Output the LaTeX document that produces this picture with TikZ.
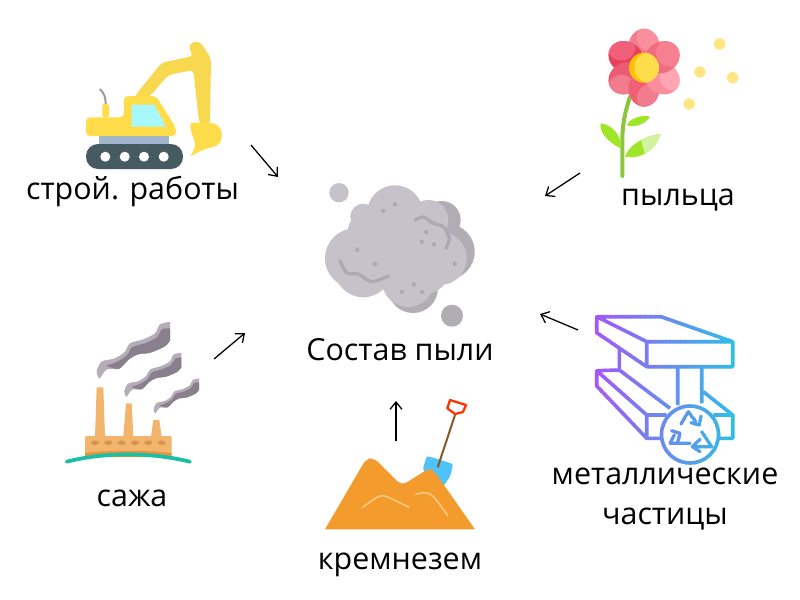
\documentclass[tikz,border=0pt]{standalone}
\usepackage{fontspec}
\setmainfont{Open Sans}
\usetikzlibrary{arrows.meta}

\definecolor{trackcol}{HTML}{465A61}
\definecolor{barcol}{HTML}{A0B4CC}
\definecolor{bodycol}{HTML}{FFDD4A}
\definecolor{armcol}{HTML}{F7D84E}
\definecolor{glasscol}{HTML}{A6F8FB}
\definecolor{leafcol}{HTML}{A0E628}
\definecolor{leaflight}{HTML}{D3F2A0}
\definecolor{stemcol}{HTML}{8CC63F}
\definecolor{pollencol}{HTML}{FFE680}
\definecolor{dustlight}{HTML}{C6C2C9}
\definecolor{dustdark}{HTML}{B0ADB5}
\definecolor{duststroke}{HTML}{ADA9B2}
\definecolor{gradA}{HTML}{A855F7}
\definecolor{gradB}{HTML}{2EC0E6}
\definecolor{sandcol}{HTML}{F39C2D}
\definecolor{sandline}{HTML}{FBC97F}
\definecolor{bladecol}{HTML}{4FC3F7}
\definecolor{plantcol}{HTML}{F2B56B}
\definecolor{plantdark}{HTML}{E39541}
\definecolor{smokelight}{HTML}{B5ADB8}
\definecolor{smokedark}{HTML}{8A7F8C}
\definecolor{groundcol}{HTML}{1ABFA5}
\definecolor{centercol}{HTML}{FFC107}

\tikzset{
  label/.style={font=\fontsize{22.8}{30}\selectfont, align=center, text=black, inner sep=0pt, anchor=base},
  flow/.style={-{Straight Barb[length=5.5pt,width=9pt]}, black, line width=.95pt},
  dustdot/.style={fill=duststroke, draw=none},
  pollen/.style={fill=pollencol, draw=none},
}

\newcommand{\beamlines}{
  (596.7,316.7) -- (661,316.7) -- (732.7,341.7) -- (646.7,341.7) -- cycle
  (646.7,341.7) -- (646.7,366.7) -- (732.7,366.7) -- (732.7,341.7)
  (596.7,316.7) -- (596.7,332.7) -- (646.7,366.7)
  (619.3,348.3) -- (619.3,370)
  (619.3,370) -- (596.7,370.7) -- (596.7,386) -- (646.7,438.3) -- (661.7,438.3)
  (596.7,370.7) -- (646.7,415) -- (646.7,438.3)
  (646.7,415) -- (666.7,415)
  (619.3,370) -- (670,408.3)
  (703.3,391.7) -- (732.7,415) -- (732.7,438.3) -- (720,438.3)
  (713.3,415) -- (732.7,415)
  (677.7,366.7) -- (677.7,405)
  (701.7,366.7) -- (701.7,403.3)
  (690,434.5) circle (28.5)
}
\newcommand{\recyclelines}{
  (681,424) -- (688.3,411.7) -- (695.7,421.7)
  (691,422.7) -- (699.3,425) -- (701,416)
  (690,443.3) -- (670,443.3) -- (674.3,435)
  (671.7,430.7) -- (680,433.3) -- (677.7,441.7)
  (701.7,431.7) -- (711.7,446.7) -- (696.7,446.7)
  (700,439.3) -- (692.3,446.7) -- (700,451.7)
}

\begin{document}
\begin{tikzpicture}[x=.75pt, y=-.75pt]
\useasboundingbox [fill=white] (0,0) rectangle (800,600);

% excavator
\fill [trackcol, rounded corners=9pt] (86,144) rectangle (183,169);
\foreach \wx in {105.3,124.7,144,163.7}
  \fill [white] (\wx,156.7) circle (5);
\fill [barcol] (99.3,136) rectangle (169.3,144);
\draw [gray!80, line width=1.5pt, line cap=round] (100,89.3) .. controls (104,93) and (105.7,97) .. (105.7,104);
\fill [bodycol, rounded corners=1.5pt] (102.3,117.3) -- (102.3,104) -- (109,104) -- (109,117.3) -- cycle;
\fill [armcol, rounded corners=3pt] (134,97) -- (161.7,62.7) -- (193.3,56) -- (188.3,46.7) -- (193,41.5) -- (200,41.7) -- (211,58.3) -- (210,124) -- (199.3,124) -- (193.3,70) -- (168.3,75) -- (149.3,97) -- cycle;
\fill [bodycol, rounded corners=2pt] (190,122.7) -- (210,122.7) .. controls (218,124) and (222,130) .. (221.7,136) .. controls (221,143) and (216,146) .. (213,147) .. controls (205,149) and (197,152) .. (190,157) .. controls (194,150) and (195,145) .. (195,143) -- (190.7,130) -- cycle;
\fill [bodycol, rounded corners=3pt] (86,117.3) -- (124,117.3) -- (124,96) -- (156,96) -- (176,128) -- (176,136) -- (86,136) -- cycle;
\fill [glasscol] (131.7,104.7) -- (154.3,104.7) -- (166,126.7) -- (131.7,126.7) -- cycle;

% flower
\draw [stemcol, line width=3pt, line cap=round] (630,96.7) .. controls (625,112) and (622.3,125) .. (622.3,140) -- (622.3,176);
\fill [leafcol] (620.7,148.3) .. controls (607,142) and (598,130) .. (601,123.3) .. controls (612,125) and (622,135) .. cycle;
\fill [leafcol] (626.7,125) .. controls (632,116) and (645,115) .. (650,116.7) .. controls (645,125) and (633,128) .. cycle;
\fill [leafcol] (625,156.7) .. controls (630,142) and (650,135) .. (660.7,134) .. controls (656,150) and (640,160) .. cycle;
\begin{scope}
  \clip (625,156.7) .. controls (630,142) and (650,135) .. (660.7,134) .. controls (656,150) and (640,160) .. cycle;
  \fill [leaflight] (638.3,130) -- (665,130) -- (665,160) -- (645,154.3) -- cycle;
\end{scope}
\foreach \ang/\base/\light/\hx in {0/F27C8C/F98F9C/7, 60/E93F5A/F0607A/7, 120/EB5C72/F27C8C/-7, 180/EF5F75/F27C8C/-7, 240/FB8E9C/FFA6B2/-7, 300/F26C80/F78090/0} {
  \definecolor{petalbase}{HTML}{\base}
  \definecolor{petallight}{HTML}{\light}
  \begin{scope}[shift={(644,67.7)}, rotate=\ang]
    \clip (0,-21) ellipse [x radius=15.5, y radius=18];
    \fill [petalbase] (-20,-45) rectangle (20,0);
    \fill [petallight] (\hx,-30) circle (14);
  \end{scope}
}
\fill [centercol] (644,67.7) circle (15);
\begin{scope}
  \clip (644,67.7) circle (15);
  \fill [bodycol] (650,67.7) circle (15.5);
\end{scope}
\foreach \dx/\dy in {719.7/44, 700/72, 732.7/77.7, 689/104}
  \fill [pollen] (\dx,\dy) circle (5.7);

% dust cloud
\fill [dustdark] (452,315.7) circle (11);
\fill [dustdark] (446.7,251.7) circle (28);
\fill [dustdark] (441.7,220) circle (19);
\fill [dustdark] (413,288) circle (25);
\fill [dustlight] (339,192.7) circle (9.7);
\foreach \cx/\cy/\cr in {355/258.3/30, 363.3/268.3/29, 395/213.3/28, 363.3/216.7/13, 375/235/28, 428.3/220/20, 440/258.3/26.7, 408/281/26, 400/250/32, 425/270/24}
  \fill [dustlight] (\cx,\cy) circle (\cr);
\draw [duststroke, line width=2.4pt, line cap=round] plot [smooth] coordinates {(340,260.7) (346.7,273) (358.3,274) (371.7,281.7) (388.3,276)};
\draw [duststroke, line width=2.4pt, line cap=round] plot [smooth] coordinates {(415,220) (423.3,217) (433.3,223.3) (443.3,226.7) (449.3,238.3) (446,248.3)};
\foreach \dx/\dy in {383.3/211, 395/204.3, 426.3/232, 421.7/241.7, 434/244.3, 357.3/249.7, 375/264, 454.7/263.7, 413.7/284.3, 402/291.7, 422/292}
  \fill [dustdot] (\dx,\dy) circle (2.2);

% factory
\foreach \sx/\sy/\sc in {99/378.3/1, 126/396.7/.78, 155/413.3/.62} {
  \begin{scope}[shift={(\sx,\sy)}, scale=\sc]
    \fill [smokelight] plot [smooth] coordinates {(0,0) (-2.3,-6.7) (2.7,-16.7) (16,-20) (26,-26.7) (31,-35) (44.3,-39) (56,-45) (61,-54) (71,-56.3)} -- plot [smooth] coordinates {(71,-38) (66,-32) (51,-25.5) (39.3,-24) (30,-19) (20,-9.5) (8,-9) (1,0)} -- cycle;
    \fill [smokedark] plot [smooth] coordinates {(7,-12.5) (18,-16.5) (28,-23) (33,-31) (46,-35) (58,-41) (63,-49) (71,-50)} -- plot [smooth] coordinates {(71,-38) (66,-32) (51,-25.5) (39.3,-24) (30,-19) (20,-9.5) (7,-12.5)} -- cycle;
  \end{scope}
}
\fill [plantcol] (96.7,387.3) -- (103.3,387.3) -- (105,437) -- (95,437) -- cycle;
\fill [plantcol] (126,403.3) -- (131.7,403.3) -- (133.3,437) -- (123.3,437) -- cycle;
\fill [plantcol] (153.3,420) -- (159.3,420) -- (161.7,437) -- (151,437) -- cycle;
\fill [plantcol, rounded corners=1.5pt] (85,436) rectangle (171.7,456);
\fill [plantdark] (85,453) .. controls (110,450) and (145,450) .. (171.7,453) -- (171.7,457) -- (85,457) -- cycle;
\foreach \wx in {95,108.3,121.7,135,148.3,161.7}
  \fill [brown!60!plantcol] (\wx,442.7) ellipse [x radius=4, y radius=2.3];
\draw [groundcol, line width=2.8pt, line cap=round] (66.7,461.7) .. controls (105,452) and (150,452) .. (190,461.7);

% sand and shovel
\fill [bladecol, rounded corners=2pt] (426.7,455.7) -- (453.3,464) -- (450,476.7) -- (443,486.7) -- (422.7,470) -- cycle;
\draw [brown!70!black, line width=1.5pt] (437.7,467.3) -- (455,415);
\draw [red!60!orange, line width=1.7pt, line join=round] (450,400) -- (466,405) -- (463,412) -- (455,414) -- (447.3,408.3) -- cycle;
\fill [sandcol] (325,529.3) [rounded corners=4pt] -- (366,459) -- (374,458) -- (401.7,485.5) -- (428,469) -- (433,469.5) [sharp corners] -- (475,529.3) -- cycle;
\draw [sandline, line width=1.2pt, line cap=round] plot [smooth] coordinates {(362.7,507.3) (378.3,496.7) (386.7,496.7) (409,507.3)};
\draw [sandline, line width=1.2pt, line cap=round] plot [smooth] coordinates {(415.7,494.3) (426.7,492.7) (435,498.3) (447.7,515.7)};

% steel beam
\foreach \i in {0,...,29} {
  \pgfmathtruncatemacro{\pct}{100-100*\i/29}
  \begin{scope}
    \clip (590+5*\i,300) rectangle (595.5+5*\i,480);
    \draw [gradA!\pct!gradB, line width=2.7pt, line join=round] \beamlines;
    \draw [gradA!\pct!gradB, line width=2.4pt, line join=round, line cap=round] \recyclelines;
  \end{scope}
}

% labels
\node [label] (work) at (132.5,199) {строй. работы};
\node [label] (pollen) at (678,205) {пыльца};
\node [label] (dust) at (400,360) {Состав пыли};
\node [label] (soot) at (132,506) {сажа};
\node [label] (silica) at (400,569) {кремнезем};
\node [label] (metal) at (665,524) {металлические\\частицы};

% arrows
\coordinate (workA) at (251,145);
\coordinate (workB) at (278,177);
\coordinate (pollenA) at (580,173);
\coordinate (pollenB) at (545,196);
\coordinate (metalA) at (578,330);
\coordinate (metalB) at (540,314);
\coordinate (silicaA) at (396,441);
\coordinate (silicaB) at (396,401);
\coordinate (sootA) at (214,359);
\coordinate (sootB) at (245,333);
\draw [flow] (workA) -- (workB);
\draw [flow] (pollenA) -- (pollenB);
\draw [flow] (metalA) -- (metalB);
\draw [flow] (silicaA) -- (silicaB);
\draw [flow] (sootA) -- (sootB);
\end{tikzpicture}
\end{document}
